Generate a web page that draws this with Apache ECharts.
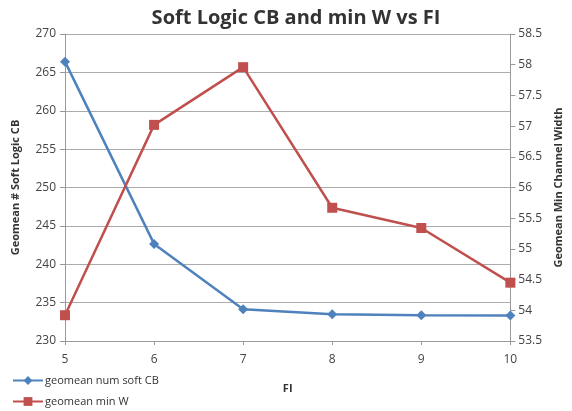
<!DOCTYPE html>
<html><head><meta charset="utf-8">
<script src="https://cdn.jsdelivr.net/npm/echarts@6/dist/echarts.min.js"></script>
<style>html,body{margin:0;padding:0;background:#fff}#c{width:572px;height:411px}</style>
</head><body><div id="c"></div>
<script>
var fi = [5, 6, 7, 8, 9, 10];
var softCB = [266.4, 242.65, 234.15, 233.5, 233.35, 233.33];
var minW = [53.92, 57.02, 57.96, 55.67, 55.34, 54.45];
var leftTicks = [230, 270, 5];
var rightTicks = [53.5, 58.5, 0.5];
var FONT = '"Open Sans", "Noto Sans", sans-serif';
function pairs(xs, ys){ return xs.map(function(x,i){ return [x, ys[i]]; }); }
var chart = echarts.init(document.getElementById('c'));
chart.setOption({
  animation: false,
  textStyle: {fontFamily: FONT},
  title: {text: 'Soft Logic CB and min W vs FI', left: 291, textAlign: 'center', top: 3,
    textStyle: {fontFamily: FONT, fontSize: 20, fontWeight: 'bold', color: '#333'}},
  grid: {left: 65, right: 55, top: 34, bottom: 70},
  legend: {orient: 'vertical', left: 12, top: 375, itemGap: 10, itemWidth: 30, itemHeight: 11,
    textStyle: {fontFamily: FONT, fontSize: 11, color: '#333', padding: [0,0,0,-3]}, padding: 0},
  xAxis: {type: 'value', min: 5, max: 10, interval: 1,
    name: 'FI', nameLocation: 'middle', nameGap: 42,
    nameTextStyle: {fontFamily: FONT, fontWeight: 'bold', fontSize: 11, color: '#333'},
    axisLine: {lineStyle: {color: '#999', width: 1}},
    axisTick: {show: true, length: 4, lineStyle: {color: '#999'}},
    axisLabel: {fontFamily: FONT, fontSize: 12, color: '#444', margin: 13},
    splitLine: {show: false}},
  yAxis: [
    {type: 'value', min: leftTicks[0], max: leftTicks[1], interval: leftTicks[2],
      name: 'Geomean # Soft Logic CB', nameLocation: 'middle', nameGap: 44,
      nameTextStyle: {fontFamily: FONT, fontWeight: 'bold', fontSize: 11, color: '#333'},
      axisLine: {show: true, lineStyle: {color: '#999'}},
      axisTick: {show: true, length: 5, lineStyle: {color: '#999'}},
      axisLabel: {fontFamily: FONT, fontSize: 12, color: '#444', margin: 9},
      splitLine: {show: true, lineStyle: {color: '#ababab', width: 1}}},
    {type: 'value', min: rightTicks[0], max: rightTicks[1], interval: rightTicks[2],
      name: 'Geomean Min Channel Width', nameLocation: 'middle', nameGap: 42,
      nameTextStyle: {fontFamily: FONT, fontWeight: 'bold', fontSize: 11, color: '#333'},
      axisLine: {show: true, lineStyle: {color: '#999'}},
      axisTick: {show: true, length: 5, lineStyle: {color: '#999'}},
      axisLabel: {fontFamily: FONT, fontSize: 12, color: '#444', margin: 8},
      splitLine: {show: false}}
  ],
  series: [
    {name: 'geomean num soft CB', type: 'line', yAxisIndex: 0, data: pairs(fi, softCB),
      symbol: 'diamond', symbolSize: 10,
      lineStyle: {color: '#4f81bd', width: 2.5}, itemStyle: {color: '#4f81bd'}},
    {name: 'geomean min W', type: 'line', yAxisIndex: 1, data: pairs(fi, minW),
      symbol: 'rect', symbolSize: 10,
      lineStyle: {color: '#c0504d', width: 2.5}, itemStyle: {color: '#c0504d'}}
  ]
});
</script></body></html>
